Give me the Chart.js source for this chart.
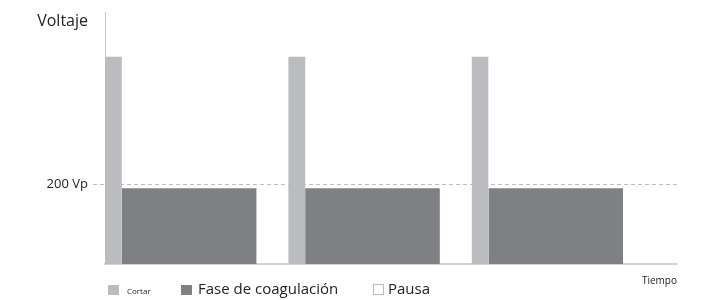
<!DOCTYPE html>
<html>
<head>
<meta charset="utf-8">
<script src="https://cdn.jsdelivr.net/npm/chart.js@4"></script>
<style>
  html, body { margin: 0; padding: 0; background: #fff; }
  #wrap { width: 706px; height: 300px; position: relative; }
</style>
</head>
<body>
<div id="wrap"><canvas id="chart" width="706" height="300"></canvas></div>
<script>
// time in arbitrary units, voltage in Vp
const cycleStarts = [0, 5.45, 10.9];
const cutDur = [0.5, 0.5, 0.5];
const coagDur = [4, 4, 4];
const pauseDur = [0.95, 0.95, 0.95];
const cutVolt = [520, 520, 520];
const coagVolt = [190, 190, 190];
const refVolt = 200;
const refLabel = '200 Vp';
const legendLabels = ['Cortar', 'Fase de coagulación', 'Pausa'];
const xMax = 17;
const yMax = 630;

const FONT = "'Open Sans', 'Noto Sans', sans-serif";

// build step shapes from the arrays
function pulse(start, dur, v) {
  return [{x: start, y: 0}, {x: start, y: v}, {x: start + dur, y: v}, {x: start + dur, y: 0}];
}
const cutPts = [], coagPts = [], pausePts = [];
cycleStarts.forEach((s, i) => {
  cutPts.push(...pulse(s, cutDur[i], cutVolt[i]));
  coagPts.push(...pulse(s + cutDur[i], coagDur[i], coagVolt[i]));
  pausePts.push(...pulse(s + cutDur[i] + coagDur[i], pauseDur[i], 0));
});

const extras = {
  id: 'extras',
  afterDraw(chart) {
    const ctx = chart.ctx;
    const area = chart.chartArea;
    ctx.save();
    ctx.fillStyle = '#222';
    ctx.font = '16px ' + FONT;
    ctx.textAlign = 'right';
    ctx.textBaseline = 'alphabetic';
    ctx.fillText('Voltaje', 88, 26);

    ctx.font = '10px ' + FONT;
    ctx.fillText('Tiempo', area.right, area.bottom + 20);

    // legend
    const items = [
      {x: 108, fill: '#bbbcc0', stroke: null, size: 8, tx: 127},
      {x: 181, fill: '#7f8083', stroke: null, size: 15, tx: 198},
      {x: 373, fill: '#fff', stroke: '#bbb', size: 15, tx: 388}
    ];
    ctx.textAlign = 'left';
    ctx.textBaseline = 'middle';
    items.forEach((it, i) => {
      ctx.fillStyle = it.fill;
      ctx.fillRect(it.x, 285, 11, 10);
      if (it.stroke) {
        ctx.strokeStyle = it.stroke;
        ctx.lineWidth = 1;
        ctx.strokeRect(it.x + 0.5, 284.5, 10, 10);
      }
      ctx.fillStyle = '#222';
      ctx.font = it.size + 'px ' + FONT;
      ctx.fillText(legendLabels[i], it.tx, it.size > 10 ? 290 : 292);
    });
    ctx.restore();
  }
};

new Chart(document.getElementById('chart'), {
  type: 'line',
  data: {
    datasets: [
      {label: legendLabels[0], data: cutPts, backgroundColor: '#bbbcc0', fill: 'origin'},
      {label: legendLabels[1], data: coagPts, backgroundColor: '#7f8083', fill: 'origin'},
      {label: legendLabels[2], data: pausePts, backgroundColor: '#ffffff', fill: 'origin'}
    ]
  },
  options: {
    responsive: false,
    animation: false,
    layout: {padding: {top: 12, right: 29, left: 0, bottom: 0}},
    elements: {
      line: {borderWidth: 0, tension: 0},
      point: {radius: 0, hoverRadius: 0}
    },
    plugins: {legend: {display: false}, tooltip: {enabled: false}},
    scales: {
      x: {
        type: 'linear',
        min: 0,
        max: xMax,
        ticks: {display: false},
        grid: {display: false},
        border: {display: true, color: '#d4d4d4', width: 2},
        afterFit(s) { s.height = 36; }
      },
      y: {
        min: 0,
        max: yMax,
        afterBuildTicks(s) { s.ticks = [{value: refVolt}]; },
        ticks: {
          callback: () => refLabel,
          color: '#222',
          font: {family: FONT, size: 13},
          padding: 5
        },
        grid: {
          color: '#bdbdbd',
          lineWidth: 1,
          tickLength: 12,
          tickColor: '#bdbdbd',
          tickBorderDash: [4, 3]
        },
        border: {display: true, color: '#c8c8c8', width: 1, dash: [4, 3]},
        afterFit(s) { s.width = 105; }
      }
    }
  },
  plugins: [extras]
});
</script>
</body>
</html>
